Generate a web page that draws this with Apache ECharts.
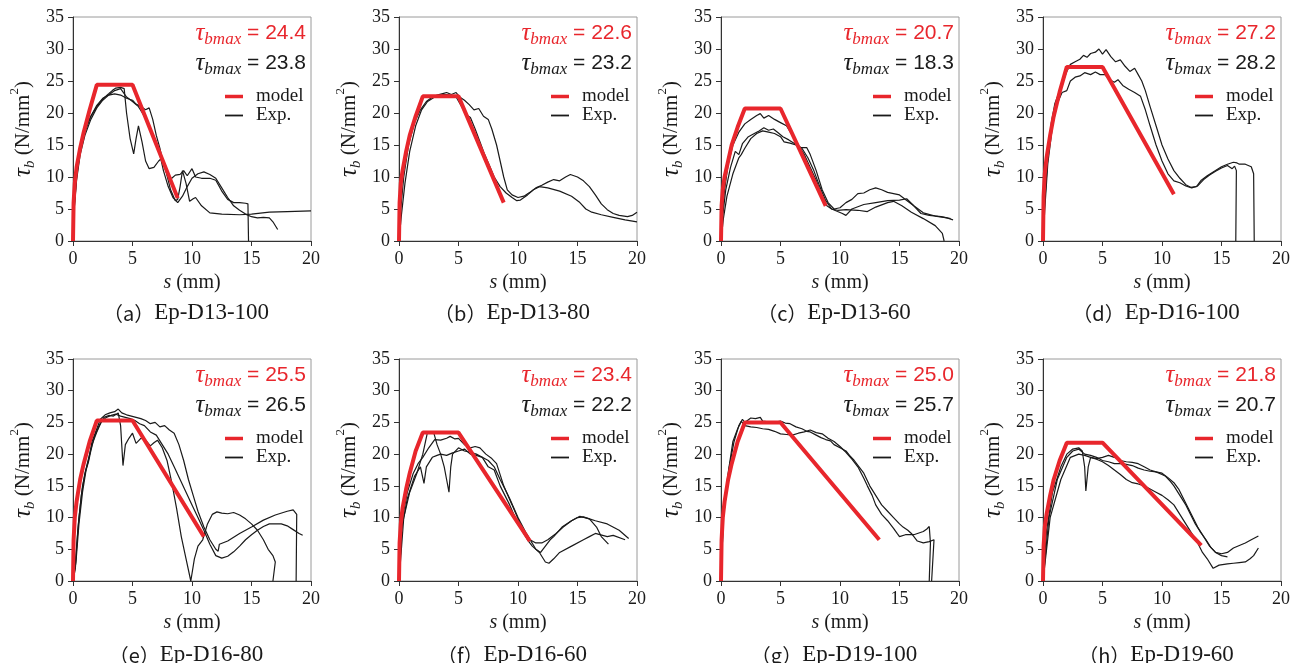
<!DOCTYPE html>
<html>
<head>
<meta charset="utf-8">
<script src="https://cdn.jsdelivr.net/npm/echarts@6/dist/echarts.min.js"></script>
<style>
html,body{margin:0;padding:0;background:#fff;}
#chart{width:1301px;height:663px;}
</style>
</head>
<body>
<div id="chart"></div>
<script>
// ---------------- DATA ----------------
const panelLetters = ['a','b','c','d','e','f','g','h'];
const specimenNames = ['Ep-D13-100','Ep-D13-80','Ep-D13-60','Ep-D16-100','Ep-D16-80','Ep-D16-60','Ep-D19-100','Ep-D19-60'];
const modelTauMax = ['24.4','22.6','20.7','27.2','25.5','23.4','25.0','21.8'];
const expTauMax = ['23.8','23.2','18.3','28.2','26.5','22.2','25.7','20.7'];
const xTickRange = [0, 20, 5];
const yTickRange = [0, 35, 5];

// (a) Ep-D13-100
const modelA = [[0,0],[0.05,6],[0.15,9],[0.3,11.5],[0.6,14.5],[0.9,17],[1.4,20.5],[2,24.4],[5,24.4],[8.8,6.7]];
const expA1 = [[0,0],[0.1,6],[0.3,11],[0.6,15],[1,17.5],[1.5,19.5],[2,21],[2.5,22.2],[3,23],[3.3,23.5],[3.6,23.9],[4,24],[4.3,23.8],[4.5,20],[4.8,16],[5.1,13.6],[5.3,16],[5.5,18],[5.8,15.5],[6.1,12.5],[6.4,11.3],[6.8,11.5],[7.2,12.5],[7.5,13],[7.8,11],[8.2,8],[8.6,6.3],[8.8,6.5],[9,8.5],[9.2,11],[9.5,9],[9.8,6.2],[10.1,6.6],[10.3,6.8],[10.8,5.5],[11.5,4.4],[12.5,4.2],[14,4.1],[15,4.2],[16.5,4.5],[18,4.6],[20,4.7]];
const expA2 = [[0,0],[0.1,5],[0.3,10],[0.6,14],[1,17],[1.5,19.5],[2,21.2],[2.5,22.3],[3,22.8],[3.5,23],[4,22.8],[4.5,22.3],[5,22],[5.3,21.4],[5.7,21],[6.1,20.5],[6.4,20.8],[6.7,19],[7,16.5],[7.3,14.5],[7.6,12],[8,10],[8.3,9.8],[8.6,10.3],[9,10.4],[9.3,11],[9.6,10.2],[10,11.3],[10.3,10],[10.8,9.8],[11.5,9.8],[12,9.5],[12.5,7.8],[13,6.5],[13.5,6],[14,6],[14.5,5.9],[14.7,5.8],[14.75,0]];
const expA3 = [[0,0],[0.1,5],[0.3,9.5],[0.6,13.5],[1,16.5],[1.5,19],[2,20.8],[2.5,22],[3,22.8],[3.5,23.5],[4,23.8],[4.5,22.5],[5,21.8],[5.5,21],[6,19.5],[6.5,17.5],[7,15.5],[7.3,13.5],[7.6,11],[8,8.5],[8.4,6.8],[8.8,6],[9.2,7],[9.6,8.5],[10,9.8],[10.5,10.5],[11,10.8],[11.5,10.4],[12,9.8],[12.5,8.3],[13,6.8],[13.5,5.5],[14,4.8],[14.5,4.2],[15,3.8],[15.5,3.6],[16,3.7],[16.5,3.6],[16.8,3],[17.2,1.8]];

// (b) Ep-D13-80
const modelB = [[0,0],[0.05,6],[0.15,9],[0.3,11],[0.6,14],[0.9,16.5],[1.4,19.5],[2,22.6],[5,22.6],[8.8,6]];
const expB1 = [[0,0],[0.15,5],[0.4,10],[0.8,15],[1.3,18.5],[1.8,20.5],[2.3,21.8],[2.8,22.5],[3.2,22.8],[3.6,23],[4,23.2],[4.4,22.9],[4.8,23.2],[5.1,22.5],[5.5,22],[5.9,21.3],[6.3,20.5],[6.7,20.7],[7.1,19.5],[7.5,19],[7.8,17.5],[8.2,15],[8.5,12.5],[8.8,10],[9.1,8],[9.5,7.2],[10,6.8],[10.5,7],[11,7.6],[11.5,8.3],[12,8.7],[12.5,9.2],[13,9.6],[13.5,9.4],[14,10],[14.4,10.4],[15,10],[15.5,9.4],[16,8.5],[16.5,7.2],[17,5.8],[17.5,4.9],[18,4.3],[18.5,4],[19.2,3.8],[19.6,4],[20,4.5]];
const expB2 = [[0,0],[0.2,4],[0.5,9],[0.9,14],[1.4,18],[1.9,20.5],[2.4,21.8],[2.9,22.4],[3.3,22.7],[3.8,22.9],[4.3,22.8],[4.8,22.5],[5.2,21.2],[5.6,19.8],[6,19.3],[6.4,17.5],[6.8,15.5],[7.2,13.5],[7.6,11.8],[8,10],[8.5,8.5],[9,7.5],[9.5,6.8],[9.9,6.3],[10.2,6.4],[10.8,7.2],[11.3,8],[11.8,8.5],[12.5,8.3],[13.5,7.8],[14.5,7],[15.2,6],[15.7,5],[16.2,4.5],[17,4.1],[18,3.7],[19,3.3],[20,3]];

// (c) Ep-D13-60
const modelC = [[0,0],[0.05,5.5],[0.15,8],[0.3,10],[0.6,12.5],[0.9,15],[1.4,17.8],[2,20.7],[5,20.7],[8.8,5.5]];
const expC1 = [[0,0],[0.1,4],[0.3,8],[0.6,12],[1,15],[1.5,17],[2,18.3],[2.5,19],[3,19.6],[3.3,19.9],[3.6,19.2],[4,19.6],[4.5,19],[5,18.5],[5.5,18],[6,16.5],[6.5,15],[7,13.5],[7.5,11.5],[8,9.5],[8.5,7],[8.9,5.5],[9.3,5],[9.8,4.8],[10.5,4.9],[11.5,4.8],[12.3,4.6],[13,5.3],[14,6],[14.5,6.2],[15.2,5.5],[16,4.5],[17,3.5],[18,2.4],[18.6,1.2],[18.75,0]];
const expC2 = [[0,0],[0.15,4],[0.4,8],[0.8,11.5],[1.2,14],[1.5,13.5],[1.8,15.2],[2.3,16.3],[2.8,16.8],[3.2,17.2],[3.6,17.7],[4,17.3],[4.4,17.5],[4.8,16.9],[5.2,16.3],[5.7,15.8],[6.2,15.2],[6.7,14.6],[7.2,14.6],[7.5,13.5],[8,11],[8.5,8],[9,6],[9.5,5],[10,5.2],[10.5,6],[11,6.5],[11.5,7.4],[12,7.5],[12.5,8],[13,8.3],[13.5,8],[14,7.6],[15,7.2],[15.5,6.5],[16.2,5.5],[17,4.4],[18,3.9],[19,3.6],[19.5,3.3]];
const expC3 = [[0,0],[0.2,3.5],[0.5,7],[1,10.5],[1.5,13],[1.7,13.5],[2,14.5],[2.5,16],[3,16.8],[3.5,17.2],[4,17],[4.5,16.8],[5,16.3],[5.3,15.5],[5.8,15.3],[6.3,15],[6.8,14.5],[7.3,13],[7.8,11],[8.3,8.5],[8.8,6.3],[9.3,5],[9.8,4.6],[10.2,4.3],[10.5,4],[11,5],[12,5.7],[13,6],[14,6.3],[15,6.4],[15.6,6.6],[16.2,5.5],[16.8,4.3],[17.5,4],[18.5,3.8],[19.3,3.5]];

// (d) Ep-D16-100
const modelD = [[0,0],[0.05,7],[0.15,10.5],[0.3,13],[0.6,16.5],[0.9,19.5],[1.4,23.3],[2,27.2],[5,27.2],[11,7.3]];
const expD1 = [[0,0],[0.15,6],[0.4,13],[0.7,18.5],[1,21.5],[1.5,24],[2,26.5],[2.3,27.6],[2.7,28],[3.1,28.4],[3.4,29],[3.7,28.7],[4,29.3],[4.4,29.5],[4.7,30],[5,29.2],[5.3,29.9],[5.7,28.8],[6.1,28],[6.5,28.3],[6.9,27.3],[7.3,26.5],[7.7,27],[8,26],[8.3,25],[8.6,23.5],[9,21],[9.5,18],[10,15],[10.5,12.8],[11,11],[11.5,9.8],[12,8.8],[12.4,8.4],[12.9,8.5],[13.3,9.5],[13.8,10.2],[14.5,11],[15,11.6],[15.5,12],[16,12.3],[16.3,12.2],[16.5,12],[17,12],[17.5,11.6],[17.7,10.5],[17.75,0]];
const expD2 = [[0,0],[0.15,5],[0.4,12],[0.8,18],[1.2,21.5],[1.6,23.2],[2,23.5],[2.3,25],[2.7,25.6],[3.1,25.8],[3.5,26.3],[4,26],[4.4,26.4],[4.8,26],[5.2,26],[5.6,25.2],[6,24.8],[6.3,25.2],[6.7,24.3],[7.2,23.7],[7.7,23.2],[8.2,22.6],[8.6,20.5],[9,18],[9.5,15],[10,12.5],[10.5,10.5],[11,9.4],[11.5,9.1],[12,8.6],[12.5,8.3],[13,8.6],[13.5,9.6],[14,10.3],[14.5,10.9],[15,11.4],[15.5,11.8],[15.9,11.3],[16.1,11.7],[16.25,11],[16.2,0]];

// (e) Ep-D16-80
const modelE = [[0,0],[0.05,6.5],[0.15,10],[0.3,12.5],[0.6,16],[0.9,18.5],[1.4,22],[2,25.3],[5,25.3],[11,7]];
const expE1 = [[0,0],[0.2,2],[0.4,8],[0.7,13.5],[1,17],[1.3,19],[1.6,22],[2,24],[2.3,25.5],[2.7,26.2],[3.1,26.5],[3.5,26.7],[3.8,27.1],[4.1,26.5],[4.5,26.2],[4.9,26],[5.3,25.8],[5.7,25.6],[6.1,25.3],[6.5,24.8],[6.9,25],[7.3,24.3],[7.7,24.5],[8.1,23.8],[8.5,23.3],[8.9,21.5],[9.3,19],[9.7,16],[10.1,13.5],[10.5,11],[11,8.5],[11.5,6.5],[12,5],[12.2,4.7],[12.3,5.8],[13,6.3],[14,7.5],[15,8.5],[16,9.6],[17,10.4],[18,11],[18.5,11.2],[18.8,10.5],[18.75,0]];
const expE2 = [[0,0],[0.2,3],[0.5,10],[0.8,15],[1.2,18.5],[1.6,21.5],[2,23.5],[2.4,25.2],[2.8,25.8],[3.2,26.1],[3.6,26.3],[4,26],[4.4,25.8],[4.8,25.6],[5.2,25.3],[5.6,24.8],[6,24.5],[6.5,23.5],[7,23],[7.5,21.5],[8,20],[8.5,18],[9,16],[9.5,14],[10,12],[10.5,10],[11,8],[11.5,5.8],[12,4],[12.5,3.6],[13,3.9],[13.5,4.6],[14,5.5],[14.5,6.5],[15,7.3],[15.5,8],[16,8.6],[16.5,9],[17.5,9],[18,8.7],[18.5,8.1],[19,7.5],[19.3,7.2]];
const expE3 = [[0,0],[0.25,3],[0.5,9],[0.8,14],[1.1,17.5],[1.3,18.8],[1.5,20.5],[1.8,22.8],[2.2,24.5],[2.6,25.8],[3,26.1],[3.4,26],[3.8,26.5],[4,24.5],[4.2,18.2],[4.4,21.5],[4.7,22.5],[5,23.3],[5.3,21.7],[5.7,22.5],[6.1,22.2],[6.5,21.3],[6.8,21.8],[7.1,22.2],[7.5,21],[7.9,19],[8.3,15.5],[8.7,11.5],[9.1,7],[9.5,3.5],[9.9,0],[10.2,3.5],[10.5,5.5],[10.9,6.5],[11.3,9],[11.7,10.5],[12.1,10.9],[12.5,10.7],[13,10.6],[13.5,10.8],[14,10.4],[14.5,9.8],[15,9],[15.5,8],[16,6.5],[16.4,5],[16.8,4],[17,3],[16.8,0]];

// (f) Ep-D16-60
const modelF = [[0,0],[0.05,6],[0.15,9],[0.3,11.5],[0.6,14.5],[0.9,17],[1.4,20.5],[2,23.4],[5,23.4],[11,6.3]];
const expF1 = [[0,0],[0.2,8],[0.7,13],[1.3,16.5],[1.8,18],[2.1,15.4],[2.3,18],[2.8,19.5],[3.2,19.8],[3.5,20],[4,19.8],[4.5,20.2],[5,20.5],[5.5,20.8],[6,20],[6.5,19.8],[7,19.5],[7.5,18],[8,17.5],[8.5,15],[9.3,12],[10,9],[10.8,6.5],[11.2,5.5],[11.8,4.5],[12.3,3],[12.6,2.8],[13,3.5],[13.5,4.5],[14.5,5.5],[15.5,6.5],[16,7],[16.5,7.5],[17.5,7],[18,7.2],[19,6.5]];
const expF2 = [[0,0],[0.3,10],[0.7,14],[1.2,17],[1.6,18.5],[2,19.5],[2.5,21],[3,22.3],[3.5,22.2],[4,22.5],[4.3,22.8],[4.7,22.4],[5,22.5],[5.5,21.5],[6,21],[6.4,21.2],[6.8,21],[7.3,20],[7.8,19.3],[8.2,18.5],[8.8,15],[9.5,12],[10.3,8.5],[11,6.5],[11.5,6],[12,6],[12.5,6.5],[13.2,7.5],[13.8,8.5],[14.5,9.5],[15,10],[15.5,10.1],[16,9.8],[16.5,9.5],[17.5,9],[18.5,8],[19.3,6.7]];
const expF3 = [[0,0],[0.4,10],[0.9,14],[1.5,17],[2,20],[2.4,23.5],[2.9,23.5],[3.2,21.5],[3.5,20],[3.8,18],[4,16],[4.2,14],[4.35,18],[4.5,20],[5,21],[5.5,20.5],[6,20.3],[6.5,20],[7,19.5],[7.5,19],[8,18],[8.5,16],[9.3,13],[10,10],[10.7,7.5],[11.5,5],[11.9,4.5],[12.3,5.5],[12.7,6.5],[13,7],[13.7,8.5],[14.5,9.5],[15.2,10.2],[16,9.8],[16.6,8.5],[17,7],[17.6,5.8]];

// (g) Ep-D19-100
const modelG = [[0,0],[0.05,6.5],[0.15,10],[0.3,12.5],[0.6,16],[0.9,18.5],[1.4,22],[2,25],[5,25],[13.3,6.5]];
const expG1 = [[0,0],[0.2,10],[0.6,17],[1,22],[1.4,24],[1.8,25.5],[2,25],[2.5,25.7],[2.9,25.6],[3.3,25.8],[3.5,25.2],[4,25.1],[4.5,25],[5,25.2],[5.4,24.9],[5.8,24.8],[6.3,24.3],[6.8,24],[7.2,23.6],[7.5,23.5],[8,23],[8.4,22.6],[8.8,22.3],[9.2,22.1],[9.5,21.5],[10,21],[10.5,20.5],[10.8,19.8],[11.2,19],[11.6,18],[12,17],[12.5,15],[13,13.5],[13.5,12],[14,11],[14.5,10],[15,9],[15.3,8.5],[15.7,8],[16,7.5],[16.5,6.3],[17,6],[17.5,6.2],[17.9,6.5],[18,6.3],[17.7,0]];
const expG2 = [[0,0],[0.2,10],[0.7,18],[1.1,22],[1.5,24.5],[1.7,25.2],[2,24.5],[2.5,24.3],[3,24.2],[3.5,24],[4,23.9],[4.5,23.6],[5,23.2],[5.5,23.1],[6,23],[6.5,23.3],[7,23.5],[7.5,23.8],[8,23.4],[8.5,23.2],[9,22.5],[9.5,22],[10,21.2],[10.5,20.3],[11,19.2],[11.5,18],[12,16.2],[12.3,15],[12.7,13.5],[13,12],[13.5,10.5],[14,9.5],[14.5,8.3],[14.8,7.5],[15,7],[15.5,7.3],[16.2,7.3],[17,7.8],[17.3,8.2],[17.5,8.6],[17.6,6],[17.5,0]];

// (h) Ep-D19-60
const modelH = [[0,0],[0.05,5.5],[0.15,8.5],[0.3,10.5],[0.6,13.5],[0.9,16],[1.4,19],[2,21.8],[5,21.8],[13.3,5.6]];
const expH1 = [[0,0],[0.3,8],[0.8,14],[1.5,18],[2,20],[2.5,20.8],[3,21],[3.3,20.5],[3.5,18],[3.6,14.2],[3.8,18],[4,19.5],[4.5,19.3],[5,19.5],[5.5,19.8],[6,19.5],[6.5,19],[7,18.8],[7.5,18.7],[8,18.5],[8.5,18],[9,17.5],[9.5,17.2],[10,17],[10.5,16.3],[11,15.5],[11.4,14.5],[11.8,13],[12.2,11.5],[12.6,10],[13,8.5],[13.5,7],[14,5.5],[14.5,4.5],[15,4.3],[15.5,4.5],[16,5.2],[16.5,5.6],[17,6],[17.5,6.5],[18.1,7.1]];
const expH2 = [[0,0],[0.5,10],[1.2,16],[2,19.5],[2.5,20.5],[3,20.8],[3.5,20],[4,19.8],[4.5,19.5],[5,19],[5.5,18.8],[6,18.5],[6.5,18.5],[7,18.4],[7.5,18.2],[8,17.8],[8.5,17.5],[9,17.3],[9.5,17.2],[10,16.8],[10.3,16.5],[10.7,15.7],[11,15],[11.5,13.5],[12,12],[12.4,10.5],[12.8,9],[13.2,7.8],[13.7,6.5],[14.1,5.3],[14.5,4.5],[15,4],[15.5,3.8]];
const expH3 = [[0,0],[0.6,10],[1.5,16],[2.3,19.5],[3,20],[3.5,19.8],[4,19.5],[4.5,19.2],[5,18.8],[5.5,18.2],[6,17.5],[6.5,16.8],[7,16],[7.5,15.5],[8,15.3],[8.5,15],[9,14.5],[9.5,14],[10,13.5],[10.5,12.8],[11,12],[11.5,10.5],[12,9],[12.5,7.5],[13,6],[13.4,4.5],[13.8,3.5],[14.3,2],[14.8,2.5],[15.5,2.7],[16,2.8],[16.5,2.9],[17,3],[17.4,3.5],[17.7,4],[18.1,5.2]];

const modelCurves = [modelA, modelB, modelC, modelD, modelE, modelF, modelG, modelH];
const expCurves = [[expA1, expA2, expA3],[expB1, expB2],[expC1, expC2, expC3],[expD1, expD2],[expE1, expE2, expE3],[expF1, expF2, expF3],[expG1, expG2],[expH1, expH2, expH3]];

// ---------------- LAYOUT / STYLE ----------------
const RED = '#e8262c';
const INK = '#1a1a1a';
const SERIF = 'Liberation Serif';
const SANS = 'Liberation Sans';
const colLeft = [73, 399, 721, 1043];
const rowTop = [17, 359];
const rowHeight = [224, 222];
const gridWidth = 238;
const captionY = [313, 655];

const grids = [], xAxes = [], yAxes = [], series = [], legends = [], graphics = [];

panelLetters.forEach((letter, i) => {
  const col = i % 4, row = Math.floor(i / 4);
  const left = colLeft[col], top = rowTop[row], h = rowHeight[row];
  grids.push({left: left, top: top, width: gridWidth, height: h, show: true, borderColor: '#9a9a9a', borderWidth: 1, containLabel: false});
  xAxes.push({
    type: 'value', gridIndex: i, min: xTickRange[0], max: xTickRange[1], interval: xTickRange[2],
    name: '{i|s} (mm)', nameLocation: 'middle', nameGap: 32,
    nameTextStyle: {fontFamily: SERIF, fontSize: 20, color: INK, rich: {i: {fontFamily: SERIF, fontStyle: 'italic', fontSize: 20, color: INK}}},
    axisLine: {show: true, onZero: false, lineStyle: {color: '#333', width: 1}},
    axisTick: {show: true, inside: false, length: 5, lineStyle: {color: '#333'}},
    axisLabel: {fontFamily: SERIF, fontSize: 18, color: INK, margin: 9},
    splitLine: {show: false}
  });
  yAxes.push({
    type: 'value', gridIndex: i, min: yTickRange[0], max: yTickRange[1], interval: yTickRange[2],
    name: '{t|τ}{b|b}{n| (N/mm}{s|2}{n|)}', nameLocation: 'middle', nameGap: 35,
    nameTextStyle: {color: INK, rich: {
      t: {fontFamily: SERIF, fontStyle: 'italic', fontSize: 25, lineHeight: 30, color: INK},
      b: {fontFamily: SERIF, fontStyle: 'italic', fontSize: 15, lineHeight: 15, verticalAlign: 'bottom', color: INK},
      n: {fontFamily: SERIF, fontSize: 21, lineHeight: 30, color: INK},
      s: {fontFamily: SERIF, fontSize: 13, lineHeight: 13, verticalAlign: 'top', color: INK}
    }},
    axisLine: {show: true, lineStyle: {color: '#333', width: 1}},
    axisTick: {show: true, inside: false, length: 5, lineStyle: {color: '#333'}},
    axisLabel: {fontFamily: SERIF, fontSize: 18, color: INK, margin: 9},
    splitLine: {show: false}
  });
  expCurves[i].forEach(curve => {
    series.push({type: 'line', name: 'Exp.', xAxisIndex: i, yAxisIndex: i, data: curve, symbol: 'none', showSymbol: false,
      lineStyle: {color: INK, width: 1.2}, itemStyle: {color: INK}, z: 2, silent: true});
  });
  series.push({type: 'line', name: 'model', xAxisIndex: i, yAxisIndex: i, data: modelCurves[i], symbol: 'none', showSymbol: false,
    lineStyle: {color: RED, width: 4}, itemStyle: {color: RED}, z: 3, silent: true});
  legends.push({
    show: true, orient: 'vertical', left: left + 152, top: top + 70, itemWidth: 18, itemHeight: 20, itemGap: 0,
    selectedMode: false, padding: 0, symbolKeepAspect: true,
    data: [
      {name: 'model', icon: 'path://M0,0L18,0L18,3.5L0,3.5Z', itemStyle: {color: RED}},
      {name: 'Exp.', icon: 'path://M0,0L18,0L18,1.8L0,1.8Z', itemStyle: {color: INK}}
    ],
    textStyle: {fontFamily: SERIF, fontSize: 19, color: INK, padding: [0, 0, 0, 8]}
  });
  const mkRich = (c) => ({
    t: {fontFamily: SERIF, fontStyle: 'italic', fontSize: 25, lineHeight: 30, fill: c},
    s: {fontFamily: SERIF, fontStyle: 'italic', fontSize: 17, lineHeight: 17, verticalAlign: 'bottom', fill: c},
    n: {fontFamily: SANS, fontSize: 21, lineHeight: 30, fill: c}
  });
  graphics.push({type: 'text', x: left + gridWidth - 5, y: top + 16, silent: true,
    style: {text: '{t|τ}{s|bmax}{n| = ' + modelTauMax[i] + '}', align: 'right', verticalAlign: 'middle', rich: mkRich(RED)}});
  graphics.push({type: 'text', x: left + gridWidth - 5, y: top + 46, silent: true,
    style: {text: '{t|τ}{s|bmax}{n| = ' + expTauMax[i] + '}', align: 'right', verticalAlign: 'middle', rich: mkRich(INK)}});
  graphics.push({type: 'text', x: left + 113, y: captionY[row], silent: true,
    style: {text: '{p|（' + letter + '）}{e|' + specimenNames[i] + '}', align: 'center', verticalAlign: 'middle',
      rich: {p: {fontFamily: 'Noto Sans CJK JP', fontSize: 20, fill: INK}, e: {fontFamily: SERIF, fontSize: 23, fill: INK}}}});
});

const chart = echarts.init(document.getElementById('chart'), null, {renderer: 'canvas'});
chart.setOption({
  backgroundColor: '#ffffff',
  animation: false,
  grid: grids,
  xAxis: xAxes,
  yAxis: yAxes,
  legend: legends,
  series: series,
  graphic: {elements: graphics}
});
</script>
</body>
</html>
